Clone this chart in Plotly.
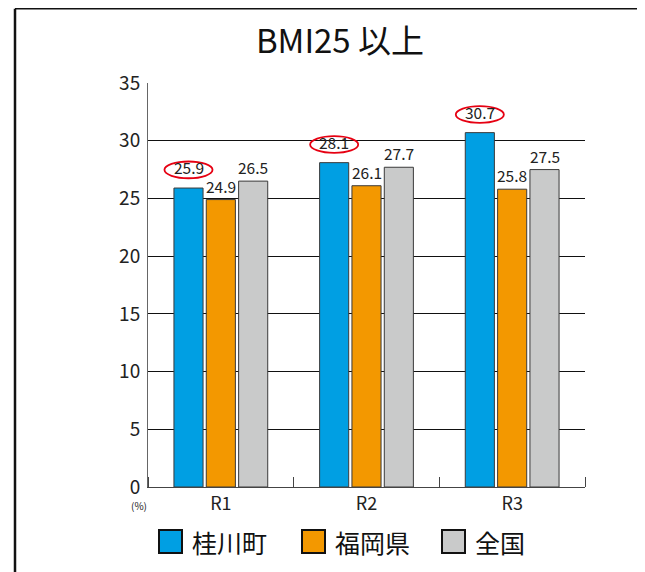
import plotly.graph_objects as go

categories = ["R1", "R2", "R3"]
series_names = ["桂川町", "福岡県", "全国"]
katsura = [25.9, 28.1, 30.7]
fukuoka = [24.9, 26.1, 25.8]
zenkoku = [26.5, 27.7, 27.5]
colors = ["#009FE3", "#F39800", "#C9CACA"]
y_ticks = [0, 5, 10, 15, 20, 25, 30, 35]

# page has an 8px body margin: figure px = reference px - 8
OFF = 8
W, H = 645, 572
L, T = 148 - OFF, 83 - OFF
PW, PH = 437, 404
R, B = W - L - PW, H - T - PH

def px_x(p):
    return (p - OFF - L) / PW

def px_y(p):
    return (T + PH - (p - OFF)) / PH

FONT = "Noto Sans CJK JP"
xs = list(range(len(categories)))
BARGAP, GROUPGAP = 0.334, 0.1
slot = (1 - BARGAP) / 3

fig = go.Figure()
all_series = [katsura, fukuoka, zenkoku]
for j, (name, vals, col) in enumerate(zip(series_names, all_series, colors)):
    fig.add_trace(go.Bar(
        x=xs, y=vals, name=name,
        marker=dict(color=col, line=dict(color="#3a3a3a", width=1)),
        showlegend=False, hoverinfo="y",
    ))
    for i, v in enumerate(vals):
        cx = xs[i] + (j - 1) * slot
        fig.add_annotation(x=cx, y=v, xref="x", yref="y", text=f"{v:.1f}", showarrow=False,
                           yanchor="bottom", yshift=(8 if j == 0 else 1),
                           font=dict(size=15.5, color="#222", family=FONT))
        if j == 0:
            fig.add_shape(type="circle", xref="x", yref="y",
                          x0=cx - 0.165, x1=cx + 0.165, y0=v + 0.85, y1=v + 2.3,
                          line=dict(color="#E60012", width=1.8))

# outer frame (top and left)
fig.add_shape(type="line", xref="paper", yref="paper", x0=px_x(15), x1=px_x(660),
              y0=(T + PH - 0.75) / PH, y1=(T + PH - 0.75) / PH, line=dict(color="#111", width=1.5))
fig.add_shape(type="line", xref="paper", yref="paper", x0=px_x(15), x1=px_x(15),
              y0=(T + PH - 0.75) / PH, y1=px_y(590), line=dict(color="#111", width=2.5))

fig.add_annotation(text="(%)", xref="paper", yref="paper", x=px_x(129), y=px_y(515),
                   showarrow=False, font=dict(size=10, color="#222", family=FONT))

# legend (manual, to match the large swatches)
legend_sw_x = [159, 302, 442]
for name, col, sx in zip(series_names, colors, legend_sw_x):
    fig.add_shape(type="rect", xref="paper", yref="paper",
                  x0=px_x(sx), x1=px_x(sx + 23), y0=px_y(530), y1=px_y(553),
                  line=dict(color="#111", width=2), fillcolor=col)
    fig.add_annotation(text=name, xref="paper", yref="paper", x=px_x(sx + 31), y=px_y(541.5),
                       xanchor="left", yanchor="middle", showarrow=False,
                       font=dict(size=25, color="#111", family=FONT))

fig.update_layout(
    width=W, height=H, margin=dict(l=L, r=R, t=T, b=B, autoexpand=False),
    paper_bgcolor="white", plot_bgcolor="white",
    barmode="group", bargap=BARGAP, bargroupgap=GROUPGAP,
    title=dict(text="BMI25 以上", x=(340 - OFF) / W, y=1 - (41 - OFF) / H,
               xref="container", yref="container", xanchor="center", yanchor="middle",
               font=dict(size=33, color="#111", family=FONT)),
    font=dict(family=FONT, color="#222"),
    showlegend=False,
    xaxis=dict(range=[-0.5, 2.5], tickvals=xs, ticktext=categories, ticks="",
               showline=True, linecolor="#444", linewidth=1, showgrid=False,
               tickfont=dict(size=18, color="#222", family=FONT),
               minor=dict(tick0=0.5, dtick=1, ticks="inside", ticklen=10, tickcolor="#444",
                          showgrid=False)),
    yaxis=dict(range=[0, 35], tickvals=y_ticks, showline=True, linecolor="#666", linewidth=1,
               showgrid=True, gridcolor="#111", gridwidth=1, zeroline=False, ticks="",
               tickfont=dict(size=19, color="#222", family=FONT), ticklabelstandoff=3),
)

fig.write_html("out.html")
